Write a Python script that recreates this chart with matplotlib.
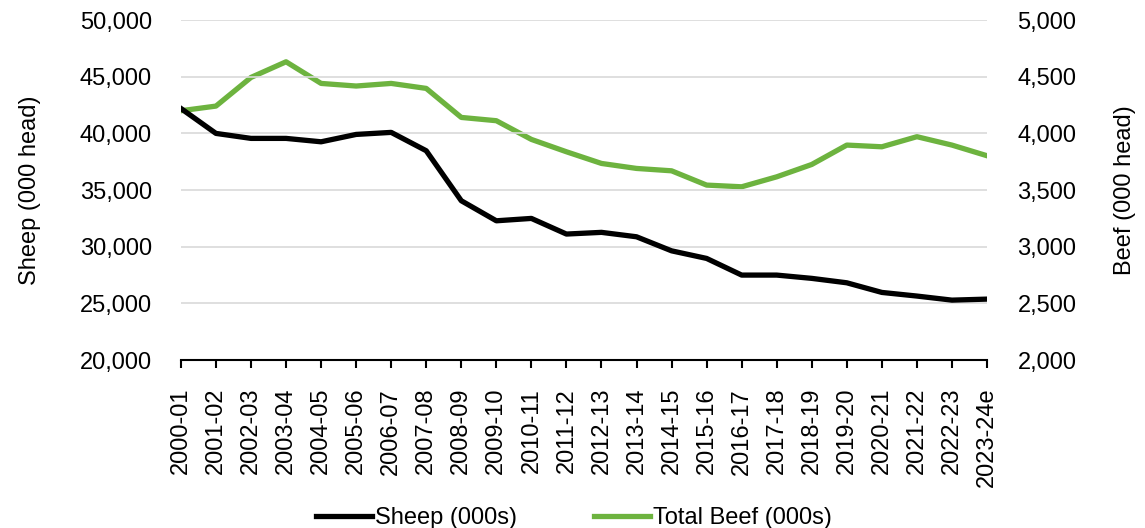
import matplotlib.pyplot as plt
import numpy as np
from matplotlib.ticker import FuncFormatter

plt.rcParams["font.family"] = ["Liberation Sans", "DejaVu Sans"]

years = [
    "2000-01", "2001-02", "2002-03", "2003-04", "2004-05", "2005-06",
    "2006-07", "2007-08", "2008-09", "2009-10", "2010-11", "2011-12",
    "2012-13", "2013-14", "2014-15", "2015-16", "2016-17", "2017-18",
    "2018-19", "2019-20", "2020-21", "2021-22", "2022-23", "2023-24e",
]
sheep = [
    42200, 40000, 39560, 39560, 39260, 39910, 40090, 38470, 34060, 32290,
    32500, 31120, 31270, 30880, 29640, 28970, 27500, 27500, 27210, 26820,
    25970, 25650, 25290, 25380,
]
beef = [
    4200, 4241, 4494, 4632, 4441, 4418, 4441, 4397, 4141, 4112, 3947, 3838,
    3735, 3691, 3670, 3544, 3529, 3617, 3726, 3897, 3882, 3971, 3897, 3803,
]

green = "#6db33f"
fs = 17
x = np.arange(len(years))

fig = plt.figure(figsize=(11.45, 5.28), dpi=100)
ax1 = fig.add_axes([0.158, 0.318, 0.704, 0.644])
ax2 = ax1.twinx()

# gridlines come from the left axis
ax1.set_ylim(20000, 50000)
ax1.set_yticks(np.arange(20000, 50001, 5000))
ax1.grid(axis="y", color="#d9d9d9", linewidth=1.2)
ax1.set_axisbelow(True)

l1, = ax1.plot(x, sheep, color="black", linewidth=3.8, label="Sheep (000s)",
               zorder=3)
l2, = ax2.plot(x, beef, color=green, linewidth=3.8, label="Total Beef (000s)",
               zorder=2)
ax1.set_zorder(ax2.get_zorder() + 1)
ax1.patch.set_visible(False)

ax2.set_ylim(2000, 5000)
ax2.set_yticks(np.arange(2000, 5001, 500))

fmt = FuncFormatter(lambda v, p: f"{v:,.0f}")
ax1.yaxis.set_major_formatter(fmt)
ax2.yaxis.set_major_formatter(fmt)

ax1.set_xlim(x[0], x[-1])
ax1.set_xticks(x)
ax1.set_xticklabels(years, rotation=90, fontsize=fs, va="top")
ax1.tick_params(axis="x", direction="out", length=6, width=1.5, pad=14)
ax1.tick_params(axis="y", length=0, pad=21, labelsize=fs)
ax2.tick_params(axis="y", length=0, pad=22, labelsize=fs)

for a in (ax1, ax2):
    for s in ("top", "left", "right"):
        a.spines[s].set_visible(False)
ax1.spines["bottom"].set_linewidth(1.5)
ax2.spines["bottom"].set_visible(False)

ax1.set_ylabel("Sheep (000 head)", fontsize=fs)
ax1.yaxis.set_label_coords(-0.173, 0.5)
ax2.set_ylabel("Beef (000 head)", fontsize=fs)
ax2.yaxis.set_label_coords(1.158, 0.5)

fig.legend(handles=[l1, l2], loc="center", bbox_to_anchor=(0.501, 0.018),
           ncol=2, frameon=False, fontsize=fs, handlelength=2.4,
           handletextpad=0.1, columnspacing=3.25)

fig.savefig("out.png", dpi=100)
